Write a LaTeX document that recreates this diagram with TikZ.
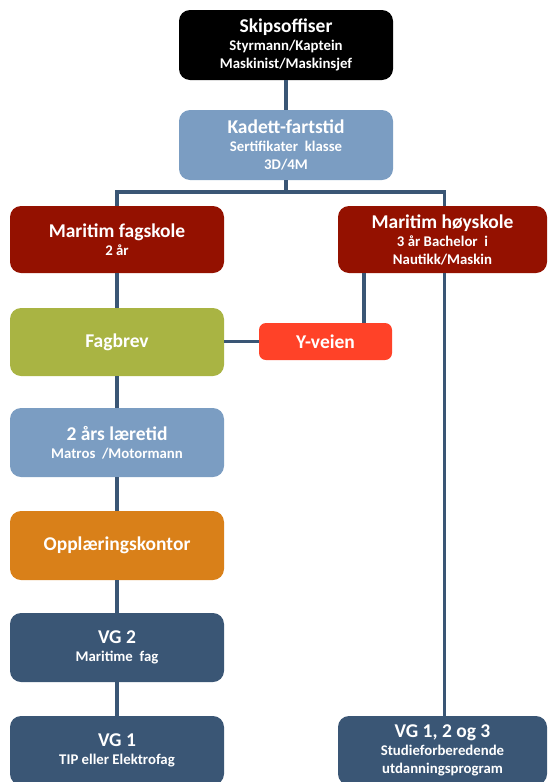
\documentclass[tikz,border=0pt]{standalone}
\usepackage{fontspec}
\setmainfont{Carlito}
\definecolor{cblack}{HTML}{000000}
\definecolor{csteel}{HTML}{7B9DC2}
\definecolor{cred}{HTML}{941100}
\definecolor{colive}{HTML}{A9B443}
\definecolor{cyv}{HTML}{FF4228}
\definecolor{corange}{HTML}{D98019}
\definecolor{cslate}{HTML}{3A5675}
\newcommand\boxtitle[1]{{\fontsize{19.5}{22}\selectfont #1}}
\begin{document}
\begin{tikzpicture}[x=1pt,y=-1pt,
  box/.style={rounded corners=11pt, minimum width=214pt, minimum height=69pt,
    text=white, align=center, inner sep=0pt,
    font=\fontsize{14.8}{18}\selectfont\bfseries},
  conn/.style={draw=cslate, line width=3.2pt}]
\useasboundingbox (0,0) rectangle (548,782);
\clip (0,0) rectangle (548,782);
\node[box, fill=cblack, minimum height=70pt] (skip) at (286,45) {\boxtitle{Skipsoffiser}\\Styrmann/Kaptein\\Maskinist/Maskinsjef};
\node[box, fill=csteel, minimum height=70pt] (kad) at (286,145) {\boxtitle{Kadett-fartstid}\\Sertifikater\ \ klasse\\3D/4M};
\node[box, fill=cred, minimum height=67pt] (fag) at (117,239.5) {\boxtitle{Maritim fagskole}\\2 år};
\node[box, fill=cred, minimum width=209pt, minimum height=67pt] (hoy) at (442.5,239.5) {\boxtitle{Maritim høyskole}\\3 år Bachelor\ \ i\\Nautikk/Maskin};
\node[box, fill=colive, minimum height=68pt] (brev) at (117,342) {\boxtitle{Fagbrev}};
\node[box, fill=cyv, minimum width=133pt, minimum height=37pt, rounded corners=7pt] (yv) at (325.5,341.5) {\boxtitle{Y-veien}};
\node[box, fill=csteel] (lare) at (117,442.5) {\boxtitle{2 års læretid}\\Matros\ \ /Motormann};
\node[box, fill=corange] (oppl) at (117,545.5) {\boxtitle{Opplæringskontor}};
\node[box, fill=cslate] (vg2) at (117,647.5) {\boxtitle{VG 2}\\Maritime\ \ fag};
\node[box, fill=cslate] (vg1) at (117,750.5) {\boxtitle{VG 1}\\TIP eller Elektrofag};
\node[box, fill=cslate, minimum width=209pt] (vg3) at (442.5,750.5) {\boxtitle{VG 1, 2 og 3}\\Studieforberedende\\utdanningsprogram};
\coordinate (bar) at (286,192);
\draw[conn] (skip.south) -- (kad.north);
\draw[conn] (kad.south) -- (bar);
\draw[conn] (fag.north) -- (fag.north |- bar) -- ([xshift=2pt]hoy.north |- bar) -- ([xshift=2pt]hoy.north);
\draw[conn] (fag.south) -- (brev.north);
\draw[conn] ([xshift=38.5pt]yv.north) -- ([xshift=38.5pt]yv.north |- hoy.south);
\draw[conn] (yv.west) -- (brev.east |- yv.west);
\draw[conn] (brev.south) -- (lare.north);
\draw[conn] (lare.south) -- (oppl.north);
\draw[conn] (oppl.south) -- (vg2.north);
\draw[conn] (vg2.south) -- (vg1.north);
\draw[conn] ([xshift=2pt]hoy.south) -- ([xshift=2pt]vg3.north);
\end{tikzpicture}
\end{document}
